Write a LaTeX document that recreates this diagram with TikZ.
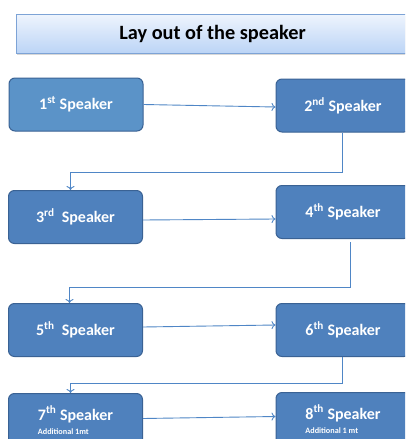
\documentclass[tikz,border=0pt]{standalone}
\usepackage{fontspec}
\setmainfont{Carlito}
\usetikzlibrary{shadows,arrows.meta}
\definecolor{boxblue}{HTML}{4F81BD}
\definecolor{boxlight}{HTML}{5B93C8}
\definecolor{boxline}{HTML}{3A6294}
\definecolor{linkblue}{HTML}{4F86C6}
\definecolor{titletop}{HTML}{EEF4FD}
\definecolor{titlebot}{HTML}{BBD4F6}
\definecolor{titleline}{HTML}{7DA3D6}
\begin{document}
\begin{tikzpicture}[x=1pt,y=-1pt,
  spk/.style={draw=boxline, line width=1pt, fill=boxblue, rounded corners=6pt,
    minimum width=134pt, minimum height=53pt, inner sep=0pt, align=left,
    text=white, font=\bfseries\fontsize{16}{17}\selectfont},
  link/.style={draw=linkblue, line width=0.9pt, -{To[length=4pt,width=8pt]}},
  heading/.style={draw=titleline, line width=0.8pt, top color=titletop, bottom color=titlebot,
    minimum width=393pt, minimum height=39pt, inner sep=0pt,
    drop shadow={shadow xshift=1pt, shadow yshift=-1.5pt, opacity=0.3},
    font=\bfseries\fontsize{20.3}{22}\selectfont}]
\useasboundingbox (0,0) rectangle (405,439);
\clip (0,0) rectangle (405,439);
\fill[white] (0,0) rectangle (405,439);
% title
\node[heading] (title) at (212.5,34) {Lay out of the speaker};
% speakers
\node[spk, fill=boxlight] (n1) at (76,104.5) {1\textsuperscript{st} Speaker};
\node[spk] (n2) at (343,105.5) {2\textsuperscript{nd} Speaker};
\node[spk] (n3) at (75.5,217) {3\textsuperscript{rd}~ Speaker};
\node[spk] (n4) at (343,212) {4\textsuperscript{th} Speaker};
\node[spk] (n5) at (75.5,330) {5\textsuperscript{th}~ Speaker};
\node[spk] (n6) at (343,330) {6\textsuperscript{th} Speaker};
\node[spk] (n7) at (75.5,420) {7\textsuperscript{th} Speaker\\[-3pt]{\fontsize{8.2}{9}\selectfont Additional 1mt}};
\node[spk] (n8) at (343,419) {8\textsuperscript{th} Speaker\\[-3pt]{\fontsize{8.2}{9}\selectfont Additional 1 mt}};
% links
\draw[link] (n1.east) -- ([yshift=-1.5pt]n2.west);
\draw[link] ([xshift=-1pt]n2.south) -- ++(0,40) -| ([xshift=-5pt]n3.north);
\draw[link] ([yshift=-3pt]n3.east) -- ([yshift=-7pt]n4.west);
\draw[link] ([xshift=7pt,yshift=-3pt]n4.south) -- ++(0,45) -| ([xshift=-6pt]n5.north);
\draw[link] ([yshift=3pt]n5.east) -- ([yshift=5pt]n6.west);
\draw[link] ([xshift=-1pt]n6.south) -- ++(0,26) -| ([xshift=-5pt]n7.north);
\draw[link] ([yshift=1.5pt]n7.east) -- ([yshift=2.5pt]n8.west);
\end{tikzpicture}
\end{document}
